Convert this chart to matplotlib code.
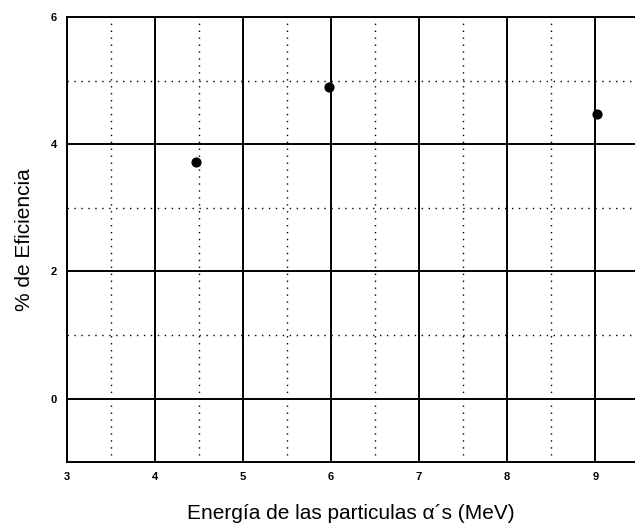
import matplotlib
matplotlib.use("Agg")
import matplotlib.pyplot as plt
from matplotlib.ticker import MultipleLocator

# data
energy = [4.47, 5.98, 9.02]
efficiency = [3.72, 4.9, 4.47]
x_ticks = [3, 4, 5, 6, 7, 8, 9]
y_ticks = [0, 2, 4, 6]

plt.rcParams['font.family'] = ['Liberation Sans', 'DejaVu Sans']

fig = plt.figure(figsize=(6.35, 5.30), dpi=100)
ax = fig.add_axes([0.105, 0.128, 0.895, 0.84])

ax.set_xlim(3, 9.45)
ax.set_ylim(-1, 6)
ax.set_xticks(x_ticks)
ax.set_yticks(y_ticks)
ax.xaxis.set_minor_locator(MultipleLocator(0.5))
ax.yaxis.set_minor_locator(MultipleLocator(1))

ax.grid(which='major', color='black', linewidth=1.4, linestyle='-')
ax.grid(which='minor', color='black', linewidth=1.0, linestyle=(0, (1, 4)))
ax.set_axisbelow(True)

ax.scatter(energy, efficiency, s=40, color='black', zorder=3)

ax.tick_params(which='both', length=0, labelsize=8, pad=7)
for lbl in ax.get_xticklabels() + ax.get_yticklabels():
    lbl.set_fontweight('bold')

for side in ['top', 'left', 'bottom']:
    ax.spines[side].set_linewidth(1.4)
ax.spines['right'].set_visible(False)

ax.set_xlabel("Energía de las particulas α´s (MeV)", fontsize=15, labelpad=16)
ax.set_ylabel("% de Eficiencia", fontsize=15, labelpad=12)

fig.savefig("out.png", dpi=100)
